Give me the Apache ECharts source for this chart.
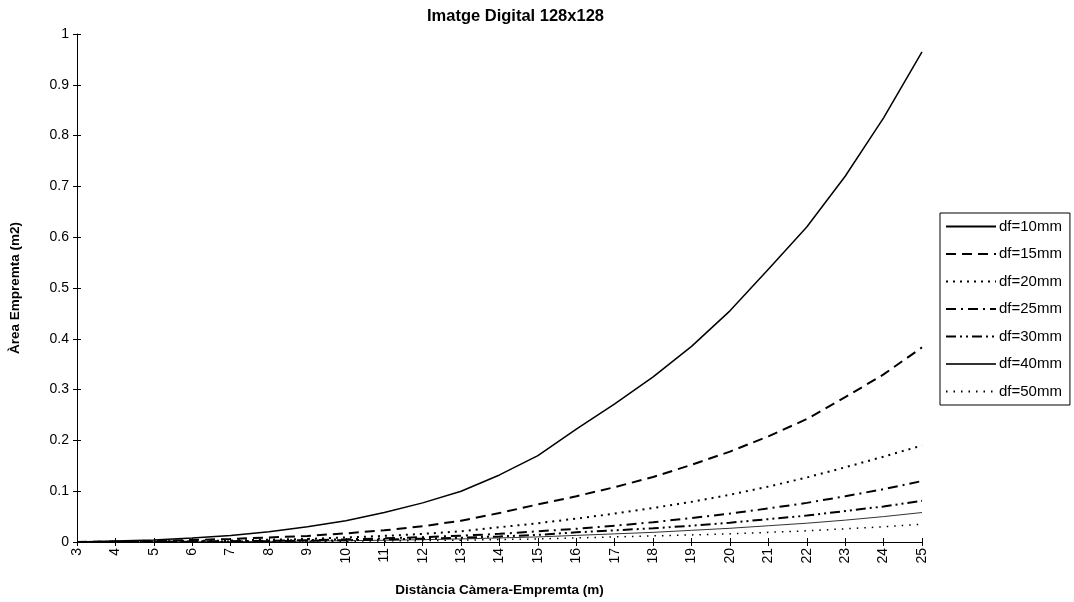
<!DOCTYPE html>
<html>
<head>
<meta charset="utf-8">
<title>Imatge Digital 128x128</title>
<script src="https://cdn.jsdelivr.net/npm/echarts@6/dist/echarts.min.js"></script>
<style>
  html, body { margin: 0; padding: 0; background: #fff; }
  #chart { width: 1074px; height: 602px; }
</style>
</head>
<body>
<div id="chart"></div>
<script>
// Distància càmera-empremta (m)
const distances = ['3','4','5','6','7','8','9','10','11','12','13','14','15','16','17','18','19','20','21','22','23','24','25'];

// Àrea de l'empremta (m2) per a cada distància focal
const df10 = [0, 0.002, 0.004, 0.008, 0.013, 0.02, 0.03, 0.042, 0.058, 0.077, 0.1, 0.132, 0.17, 0.222, 0.272, 0.325, 0.385, 0.455, 0.537, 0.62, 0.72, 0.835, 0.965];
const df15 = [0, 0.001, 0.002, 0.004, 0.006, 0.009, 0.012, 0.017, 0.023, 0.031, 0.042, 0.057, 0.074, 0.09, 0.108, 0.128, 0.152, 0.178, 0.208, 0.242, 0.285, 0.33, 0.383];
const df20 = [0, 0.0005, 0.001, 0.002, 0.003, 0.0045, 0.006, 0.009, 0.012, 0.016, 0.021, 0.029, 0.037, 0.046, 0.056, 0.067, 0.079, 0.093, 0.109, 0.127, 0.147, 0.168, 0.19];
const df25 = [0, 0, 0.0005, 0.001, 0.0015, 0.0025, 0.0037, 0.0052, 0.0072, 0.0095, 0.0125, 0.016, 0.021, 0.026, 0.032, 0.039, 0.047, 0.056, 0.066, 0.077, 0.09, 0.104, 0.12];
const df30 = [0, 0, 0.0003, 0.0007, 0.001, 0.0017, 0.0025, 0.0035, 0.0049, 0.0065, 0.0084, 0.011, 0.014, 0.019, 0.023, 0.027, 0.032, 0.038, 0.045, 0.052, 0.061, 0.07, 0.081];
const df40 = [0, 0, 0.0002, 0.0005, 0.0008, 0.0012, 0.0018, 0.0025, 0.0035, 0.0046, 0.006, 0.008, 0.01, 0.013, 0.016, 0.019, 0.023, 0.027, 0.032, 0.037, 0.043, 0.05, 0.058];
const df50 = [0, 0, 0.0001, 0.0003, 0.0005, 0.0007, 0.0011, 0.0015, 0.0021, 0.0028, 0.0036, 0.0048, 0.006, 0.008, 0.01, 0.012, 0.014, 0.016, 0.019, 0.022, 0.026, 0.03, 0.035];

const seriesNames = ['df=10mm', 'df=15mm', 'df=20mm', 'df=25mm', 'df=30mm', 'df=40mm', 'df=50mm'];
const seriesData = [df10, df15, df20, df25, df30, df40, df50];

// line patterns: solid, dashed, dotted, dash-dot, dash-dot-dot, thin, sparse dots
const lineStyles = [
  { width: 1.5, type: 'solid', color: '#000' },
  { width: 2, type: [10, 6], color: '#000' },
  { width: 2, type: [2, 5], color: '#000' },
  { width: 2, type: [10, 5, 2, 5], color: '#000' },
  { width: 2, type: [10, 4, 2, 4, 2, 4], color: '#000' },
  { width: 1, type: 'solid', color: '#333' },
  { width: 1.5, type: [1.5, 6], color: '#000' }
];

const FONT = 'Liberation Sans, Arial, Helvetica, sans-serif';

const chart = echarts.init(document.getElementById('chart'), null, { renderer: 'canvas' });

const axisLine = { show: true, lineStyle: { color: '#000', width: 1 } };

chart.setOption({
  backgroundColor: '#fff',
  animation: false,
  title: {
    text: 'Imatge Digital 128x128',
    left: 422,
    top: 3,
    textStyle: { fontFamily: FONT, fontSize: 16.5, fontWeight: 'bold', color: '#000' }
  },
  legend: {
    orient: 'vertical',
    left: 940,
    top: 213,
    padding: [6, 8, 6, 5],
    itemWidth: 50,
    itemHeight: 14,
    itemGap: 12.5,
    borderColor: '#000',
    borderWidth: 1,
    // line sample only, no marker
    itemStyle: { opacity: 0, color: 'transparent', borderWidth: 0 },
    textStyle: { fontFamily: FONT, fontSize: 15, color: '#000', padding: [0, 0, 0, -2] },
    data: seriesNames
  },
  grid: { left: 77, right: 152, top: 34, bottom: 54, containLabel: false },
  xAxis: [
    {
      type: 'category',
      data: distances,
      boundaryGap: false,
      axisLine: axisLine,
      axisTick: { show: true, alignWithLabel: true, length: 4, lineStyle: { color: '#000' } },
      axisLabel: { rotate: 90, fontFamily: FONT, fontSize: 14, color: '#000', margin: 6, interval: 0 },
      splitLine: { show: false },
      name: 'Distància Càmera-Empremta (m)',
      nameLocation: 'middle',
      nameGap: 41,
      nameTextStyle: { fontFamily: FONT, fontSize: 13.5, fontWeight: 'bold', color: '#000' }
    },
    {
      // inner half of the crossing tick marks
      type: 'category',
      data: distances,
      boundaryGap: false,
      position: 'bottom',
      axisLine: { show: false },
      axisTick: { show: true, inside: true, length: 4, lineStyle: { color: '#000' } },
      axisLabel: { show: false },
      splitLine: { show: false }
    }
  ],
  yAxis: [
    {
      type: 'value',
      min: 0,
      max: 1,
      interval: 0.1,
      axisLine: axisLine,
      axisTick: { show: true, length: 4, lineStyle: { color: '#000' } },
      axisLabel: { fontFamily: FONT, fontSize: 14, color: '#000', margin: 8 },
      splitLine: { show: false },
      name: 'Àrea Empremta (m2)',
      nameLocation: 'middle',
      nameGap: 55,
      nameTextStyle: { fontFamily: FONT, fontSize: 13.5, fontWeight: 'bold', color: '#000' }
    },
    {
      // inner half of the crossing tick marks
      type: 'value',
      min: 0,
      max: 1,
      interval: 0.1,
      position: 'left',
      axisLine: { show: false },
      axisTick: { show: true, inside: true, length: 4, lineStyle: { color: '#000' } },
      axisLabel: { show: false },
      splitLine: { show: false }
    }
  ],
  series: seriesNames.map((name, i) => ({
    name: name,
    type: 'line',
    data: seriesData[i],
    symbol: 'none',
    smooth: false,
    lineStyle: lineStyles[i],
    itemStyle: { color: '#000' },
    z: 10 - i
  }))
});
</script>
</body>
</html>
